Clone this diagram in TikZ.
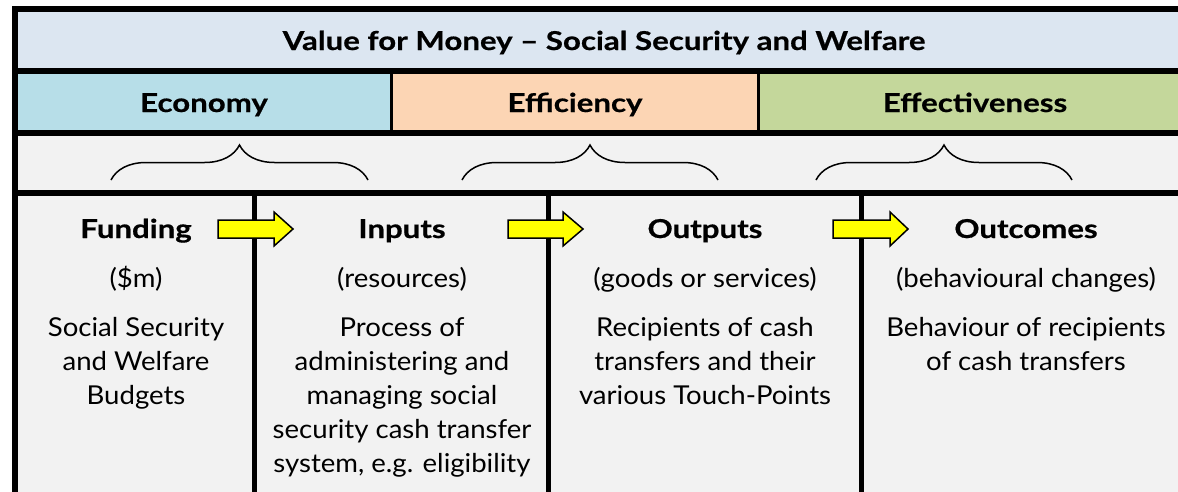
\documentclass[tikz,border=0pt]{standalone}
\usepackage{fontspec}
\setmainfont{Lato}[FakeStretch=1.06, BoldFeatures={FakeStretch=1.2, FakeBold=0.6}]
\usetikzlibrary{decorations.pathreplacing}
\definecolor{titlebg}{HTML}{DCE6F1}
\definecolor{econbg}{HTML}{B7DEE8}
\definecolor{effibg}{HTML}{FCD5B4}
\definecolor{effebg}{HTML}{C4D79B}
\definecolor{panelbg}{HTML}{F2F2F2}
\definecolor{arrowfill}{HTML}{FFFF00}
\tikzset{
  rule/.style={line width=6pt, line cap=rect},
  thinrule/.style={line width=3pt},
  colrule/.style={line width=5pt},
  heading/.style={font=\fontsize{26}{34}\selectfont\bfseries, anchor=base, inner sep=0pt},
  bandtext/.style={font=\fontsize{26}{34}\selectfont\bfseries, anchor=base, inner sep=0pt},
  subtext/.style={font=\fontsize{26}{34}\selectfont, anchor=base, inner sep=0pt},
  bodytext/.style={font=\fontsize{26}{34}\selectfont, anchor=north, align=center, inner sep=0pt},
  bracket/.style={decorate, decoration={brace, amplitude=35pt}, line width=1.5pt},
  blockarrow/.style={draw=black, line width=1.5pt, fill=arrowfill, line join=miter}
}
\begin{document}
\begin{tikzpicture}[x=1pt, y=-1pt]
\useasboundingbox (0,0) rectangle (1178,491);
% background bands
\fill[titlebg] (15,9) rectangle (1190,71);
\fill[econbg] (15,71) rectangle (391.5,133);
\fill[effibg] (391.5,71) rectangle (758.5,133);
\fill[effebg] (758.5,71) rectangle (1190,133);
\fill[panelbg] (15,133) rectangle (1190,495);
% frame and horizontal rules
\draw[rule] (15,9) -- (1190,9);
\draw[rule] (15,71) -- (1190,71);
\draw[rule] (15,133) -- (1190,133);
\draw[rule] (15,193) -- (1190,193);
\draw[rule] (15,9) -- (15,495);
\draw[thinrule] (391.5,71) -- (391.5,133);
\draw[thinrule] (758.5,71) -- (758.5,133);
\draw[colrule] (254.5,193) -- (254.5,495);
\draw[colrule] (548.5,193) -- (548.5,495);
\draw[colrule] (861.5,193) -- (861.5,495);
% title and the three E's
\node[bandtext] (title) at (604,50) {Value for Money – Social Security and Welfare};
\node[bandtext] (economy) at (204,112) {Economy};
\node[bandtext] (efficiency) at (575,112) {Efficiency};
\node[bandtext] (effectiveness) at (975,112) {Effectiveness};
% braces
\draw[bracket] (111,180) -- (368,180);
\draw[bracket] (462,180) -- (718,180);
\draw[bracket] (816,180) -- (1072,180);
% block arrows
\foreach \x/\h/\t in {218/274/293, 508/563/583, 833/890/908}{
  \draw[blockarrow] (\x,220) -- (\h,220) -- (\h,212) -- (\t,229) -- (\h,246) -- (\h,238) -- (\x,238) -- cycle;
}
% column headings
\node[heading] (funding) at (136,238) {Funding};
\node[heading] (inputs) at (402,238) {Inputs};
\node[heading] (outputs) at (705,238) {Outputs};
\node[heading] (outcomes) at (1026,238) {Outcomes};
\node[subtext] (fundsub) at (136,287) {(\$m)};
\node[subtext] (inpsub) at (402,287) {(resources)};
\node[subtext] (outsub) at (705,287) {(goods or services)};
\node[subtext] (outcsub) at (1026,287) {(behavioural changes)};
% column descriptions
\node[bodytext] (fundbody) at (136,317) {Social Security\\and Welfare\\Budgets};
\node[bodytext] (inpbody) at (402,317) {Process of\\administering and\\managing social\\security cash transfer\\system, e.g. eligibility};
\node[bodytext] (outbody) at (705,317) {Recipients of cash\\transfers and their\\various Touch-Points};
\node[bodytext] (outcbody) at (1026,317) {Behaviour of recipients\\of cash transfers};
\end{tikzpicture}
\end{document}
